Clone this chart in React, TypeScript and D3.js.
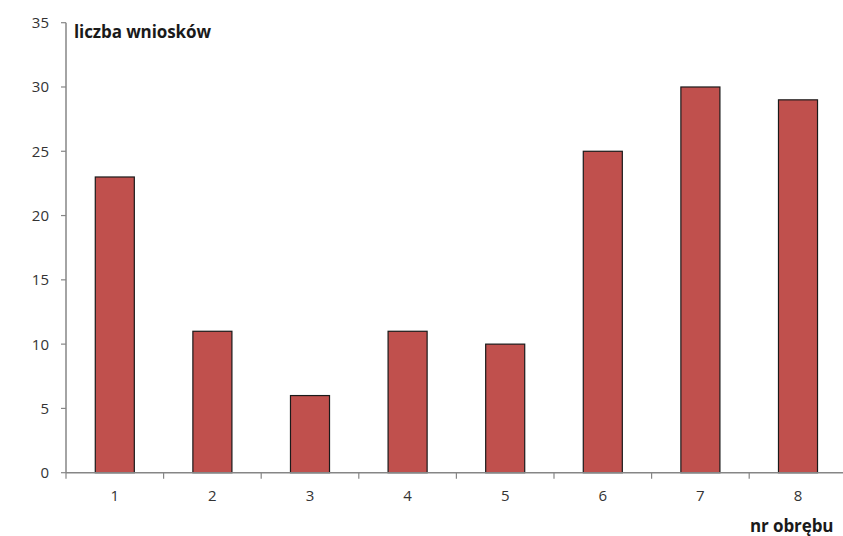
import React from "react";
import * as d3 from "d3";

const categories = ["1", "2", "3", "4", "5", "6", "7", "8"];
const values = [23, 11, 6, 11, 10, 25, 30, 29];
const yTicks = [0, 5, 10, 15, 20, 25, 30, 35];

export default function App() {
  const W = 843, H = 536;
  const left = 66, bottom = 472.7, top = 22.7;
  const step = 97.6;
  const x = d3.scaleBand<string>().domain(categories).range([left, left + step * categories.length]).padding(0);
  const y = d3.scaleLinear().domain([0, 35]).range([bottom, top]);
  const bw = x.bandwidth() * 0.4;
  const font = "'Open Sans', Lato, sans-serif";
  const tickColor = "#333333";
  const axisColor = "#868686";
  return (
    <svg width={W} height={H} style={{ position: "absolute", left: 0, top: 0, background: "#fff" }} fontFamily={font}>
      <rect x={0} y={0} width={W} height={H} fill="#fff" />
      {categories.map((c, i) => (
        <rect key={c} x={(x(c) as number) + (x.bandwidth() - bw) / 2} y={y(values[i])} width={bw} height={y(0) - y(values[i])}
          fill="#C0504D" stroke="#1a1a1a" strokeWidth={1.2} />
      ))}
      <line x1={left} x2={left} y1={top} y2={bottom} stroke={axisColor} strokeWidth={1.5} />
      <line x1={left} x2={W} y1={bottom} y2={bottom} stroke={axisColor} strokeWidth={1.5} />
      {yTicks.map(t => (
        <g key={t}>
          <line x1={left - 5} x2={left} y1={y(t)} y2={y(t)} stroke={axisColor} strokeWidth={1.2} />
          <text x={49} y={y(t)} dy="0.36em" textAnchor="end" fontSize={15} fill={tickColor}>{t}</text>
        </g>
      ))}
      {categories.map((c, i) => (
        <g key={c}>
          <line x1={(x(c) as number)} x2={(x(c) as number)} y1={bottom} y2={bottom + 6} stroke={axisColor} strokeWidth={1.2} />
          <text x={(x(c) as number) + x.bandwidth() / 2} y={496} dy="0.36em" textAnchor="middle" fontSize={15} fill={tickColor}>{c}</text>
        </g>
      ))}
      <text x={74} y={38} fontSize={17} fontWeight="bold" fill="#1a1a1a" letterSpacing={-0.1}>liczba wniosków</text>
      <text x={750} y={532} fontSize={17} fontWeight="bold" fill="#1a1a1a" letterSpacing={-0.1}>nr obrębu</text>
    </svg>
  );
}
